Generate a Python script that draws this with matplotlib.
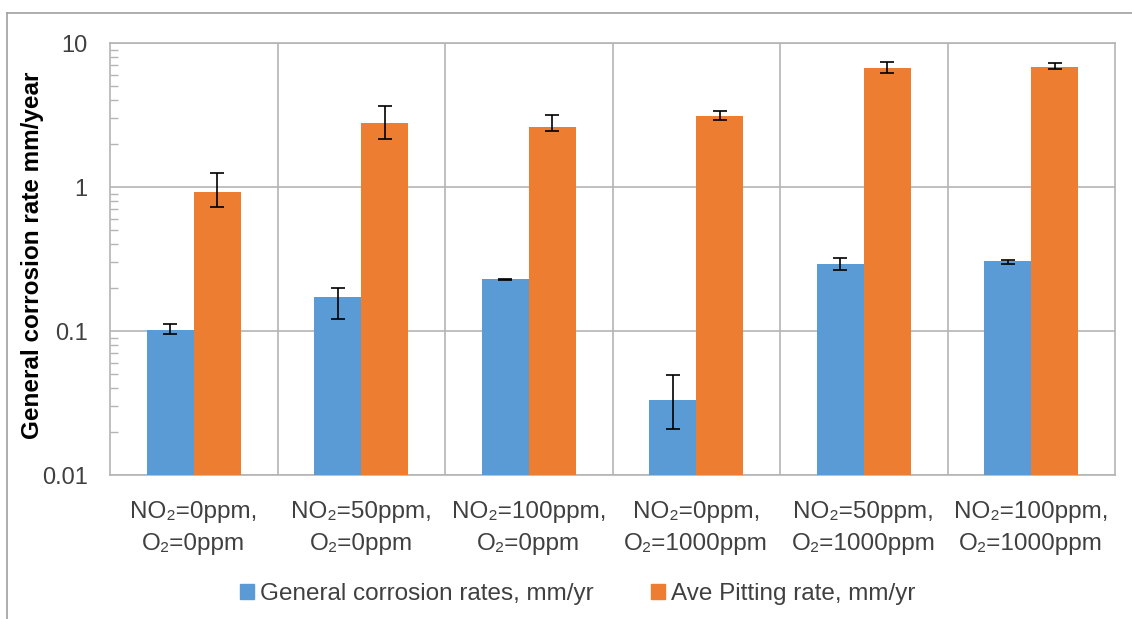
import numpy as np
import matplotlib.pyplot as plt
from matplotlib.lines import Line2D
from matplotlib.patches import Patch

plt.rcParams['font.family'] = ['Liberation Sans', 'DejaVu Sans']

# data (log scale)
categories = ['NO\u2082=0ppm,\nO\u2082=0ppm', 'NO\u2082=50ppm,\nO\u2082=0ppm',
              'NO\u2082=100ppm,\nO\u2082=0ppm', 'NO\u2082=0ppm,\nO\u2082=1000ppm',
              'NO\u2082=50ppm,\nO\u2082=1000ppm', 'NO\u2082=100ppm,\nO\u2082=1000ppm']
general = [0.101, 0.171, 0.228, 0.033, 0.29, 0.305]
general_lo = [0.006, 0.049, 0.001, 0.012, 0.024, 0.011]
general_hi = [0.010, 0.029, 0.001, 0.0165, 0.030, 0.005]
pitting = [0.93, 2.78, 2.60, 3.13, 6.67, 6.85]
pitting_lo = [0.20, 0.63, 0.16, 0.21, 0.45, 0.25]
pitting_hi = [0.33, 0.87, 0.58, 0.26, 0.71, 0.37]

blue = '#5B9BD5'
orange = '#ED7D31'
grid_c = '#B4B4B4'
text_c = '#404040'

fig = plt.figure(figsize=(11.32, 6.19), dpi=100)
ax = fig.add_axes([110/1132, 1-475/619, (1115-110)/1132, (475-43)/619])

x = np.arange(len(categories))
w = 0.28
err_kw = dict(ecolor='black', elinewidth=1.2, capsize=5, capthick=1.2)
ax.bar(x - w/2, general, w, color=blue, yerr=[general_lo, general_hi],
       error_kw=err_kw, zorder=3, label='General corrosion rates, mm/yr')
ax.bar(x + w/2, pitting, w, color=orange, yerr=[pitting_lo, pitting_hi],
       error_kw=err_kw, zorder=3, label='Ave Pitting rate, mm/yr')

ax.set_yscale('log')
ax.set_ylim(0.01, 10)
ax.set_xlim(-0.5, len(categories) - 0.5)
ax.set_yticks([0.01, 0.1, 1, 10])
ax.set_yticklabels(['0.01', '0.1', '1', '10'])
ax.set_xticks(x)
ax.set_xticklabels(categories, fontsize=17.5, linespacing=1.58)
ax.set_xticks(np.arange(0.5, len(categories) - 0.5, 1), minor=True)

ax.grid(True, which='major', axis='y', color=grid_c, linewidth=1.2, zorder=0)
ax.grid(True, which='minor', axis='x', color=grid_c, linewidth=1.2, zorder=0)
for s in ax.spines.values():
    s.set_color(grid_c)
    s.set_linewidth(1.2)

ax.tick_params(axis='x', which='both', length=0, pad=19, labelcolor=text_c)
ax.tick_params(axis='y', which='major', length=0, pad=16, labelsize=17, labelcolor=text_c)
ax.tick_params(axis='y', which='minor', direction='in', length=6, color=grid_c, width=1)

ax.set_ylabel('General corrosion rate mm/year', fontsize=17.5, fontweight='bold')
ax.yaxis.set_label_coords(-0.066, 0.508)

handles = [Patch(color=blue), Patch(color=orange)]
fig.legend(handles, ['General corrosion rates, mm/yr', 'Ave Pitting rate, mm/yr'],
           loc='center', bbox_to_anchor=(0.5106, 1-594/619), ncol=2, frameon=False,
           fontsize=17.5, handlelength=0.58, handleheight=0.58, handletextpad=0.25,
           columnspacing=2.35, labelcolor=text_c)

# chart area border (left and top edges visible in the original)
fig.add_artist(Line2D([7/1132, 7/1132], [0, 1-13/619], color='#A0A0A0', linewidth=1.2))
fig.add_artist(Line2D([7/1132, 1], [1-13/619, 1-13/619], color='#A0A0A0', linewidth=1.2))

fig.savefig('out.png', dpi=100)
